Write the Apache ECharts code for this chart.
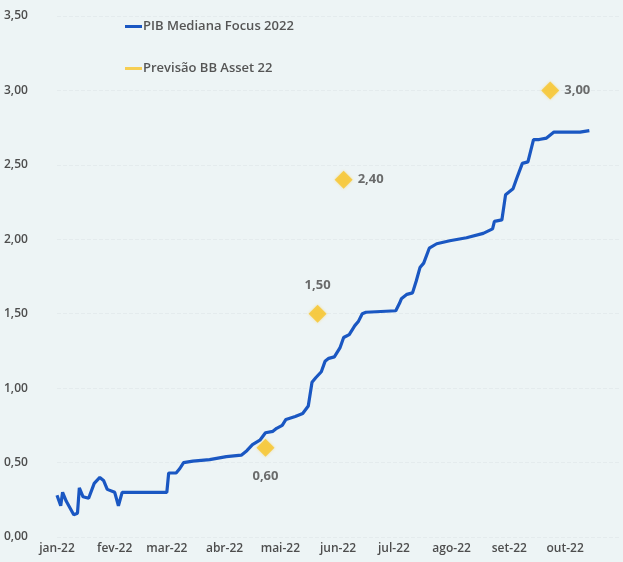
<!DOCTYPE html>
<html>
<head>
<meta charset="utf-8">
<script src="https://cdn.jsdelivr.net/npm/echarts@6/dist/echarts.min.js"></script>
<style>
  html, body { margin: 0; padding: 0; background: #edf4f5; }
  #chart { width: 623px; height: 562px; }
</style>
</head>
<body>
<div id="chart"></div>
<script>
// Mediana das expectativas Focus para o PIB de 2022 (datas e valores em %)
const focusDates = [
  '2022-01-01','2022-01-03','2022-01-04','2022-01-06','2022-01-10','2022-01-12','2022-01-13',
  '2022-01-15','2022-01-18','2022-01-21','2022-01-24','2022-01-26','2022-01-28','2022-02-01',
  '2022-02-03','2022-02-05','2022-03-01','2022-03-02','2022-03-06','2022-03-08','2022-03-10',
  '2022-03-15','2022-03-24','2022-04-02','2022-04-10','2022-04-13','2022-04-16','2022-04-20',
  '2022-04-23','2022-04-27','2022-04-29','2022-05-02','2022-05-04','2022-05-09','2022-05-13',
  '2022-05-16','2022-05-18','2022-05-20','2022-05-23','2022-05-25','2022-05-27','2022-05-30',
  '2022-06-02','2022-06-04','2022-06-07','2022-06-10','2022-06-12','2022-06-14','2022-06-16',
  '2022-07-02','2022-07-04','2022-07-05','2022-07-08','2022-07-11','2022-07-13','2022-07-15',
  '2022-07-17','2022-07-20','2022-07-24','2022-07-31','2022-08-09','2022-08-18','2022-08-23',
  '2022-08-24','2022-08-28','2022-08-30','2022-09-03','2022-09-05','2022-09-08','2022-09-11',
  '2022-09-14','2022-09-17','2022-09-21','2022-09-23','2022-09-25','2022-10-01','2022-10-09',
  '2022-10-14'
];
const focusValues = [
  0.28,0.21,0.30,0.24,0.15,0.16,0.33,
  0.27,0.26,0.36,0.40,0.38,0.32,0.30,
  0.21,0.30,0.30,0.43,0.43,0.46,0.50,
  0.51,0.52,0.54,0.55,0.58,0.62,0.65,
  0.70,0.71,0.73,0.75,0.79,0.81,0.83,
  0.88,1.04,1.07,1.11,1.18,1.20,1.21,
  1.27,1.34,1.36,1.42,1.45,1.50,1.51,
  1.52,1.57,1.60,1.63,1.64,1.72,1.81,
  1.84,1.94,1.97,1.99,2.01,2.04,2.07,
  2.12,2.13,2.30,2.34,2.41,2.51,2.52,
  2.67,2.67,2.68,2.70,2.72,2.72,2.72,
  2.73
];

// Previsões da BB Asset para o PIB de 2022
const bbDates = ['2022-04-23', '2022-05-21', '2022-06-04', '2022-09-23'];
const bbValues = [0.60, 1.50, 2.40, 3.00];
const bbLabelPos = ['bottom', 'top', 'right', 'right'];

const monthNames = ['jan','fev','mar','abr','mai','jun','jul','ago','set','out','nov','dez'];
const yTicks = { min: 0, max: 3.5, step: 0.5 };

const fmtComma = v => v.toFixed(2).replace('.', ',');

const chart = echarts.init(document.getElementById('chart'), null, { renderer: 'canvas' });

const DAY = 86400000;

chart.setOption({
  backgroundColor: '#edf4f5',
  animation: false,
  textStyle: { fontFamily: 'Open Sans, Lato, sans-serif' },
  grid: { left: 57, right: 2, top: 16, bottom: 25, containLabel: false },
  legend: {
    orient: 'vertical',
    left: 120,
    top: 15,
    itemGap: 29,
    itemWidth: 17,
    itemHeight: 3,
    textStyle: { color: '#555', fontSize: 13, fontWeight: 600, padding: [0, 0, 0, -4] },
    data: [
      { name: 'PIB Mediana Focus 2022', icon: 'rect' },
      { name: 'Previsão BB Asset 22', icon: 'rect', itemStyle: { color: '#f7c42a' } }
    ]
  },
  xAxis: {
    type: 'time',
    min: '2022-01-01',
    max: '2022-10-31',
    minInterval: 28 * DAY,
    maxInterval: 31 * DAY,
    axisLine: { show: false },
    axisTick: { show: false },
    splitLine: { show: false },
    axisLabel: {
      color: '#4d4d4d',
      fontSize: 12,
      fontWeight: 600,
      margin: 6,
      hideOverlap: false,
      formatter: function (val) {
        const d = new Date(val);
        return monthNames[d.getMonth()] + '-' + String(d.getFullYear()).slice(2);
      }
    }
  },
  yAxis: {
    type: 'value',
    min: yTicks.min,
    max: yTicks.max,
    interval: yTicks.step,
    axisLine: { show: false },
    axisTick: { show: false },
    splitLine: { show: true, lineStyle: { color: '#e4ebed', type: 'dashed', width: 1 } },
    axisLabel: {
      color: '#4d4d4d',
      fontSize: 12,
      fontWeight: 600,
      align: 'left',
      margin: 53,
      verticalAlign: 'middle',
      formatter: v => fmtComma(v)
    }
  },
  series: [
    {
      name: 'PIB Mediana Focus 2022',
      type: 'line',
      data: focusDates.map((d, i) => [d, focusValues[i]]),
      showSymbol: false,
      symbol: 'none',
      lineStyle: { color: '#1a57c2', width: 3.2 },
      itemStyle: { color: '#1a57c2' },
      z: 3
    },
    {
      name: 'Previsão BB Asset 22',
      type: 'scatter',
      symbol: 'diamond',
      symbolSize: 18,
      data: bbDates.map((d, i) => ({
        value: [d, bbValues[i]],
        label: { position: bbLabelPos[i], distance: bbLabelPos[i] === 'right' ? 5 : 13 }
      })),
      itemStyle: { color: '#f7c42a', shadowColor: 'rgba(247,196,42,0.5)', shadowBlur: 3 },
      label: {
        show: true,
        color: '#484848',
        fontSize: 13,
        fontWeight: 'bold',
        formatter: p => fmtComma(p.value[1])
      },
      z: 4
    }
  ]
});
</script>
</body>
</html>
